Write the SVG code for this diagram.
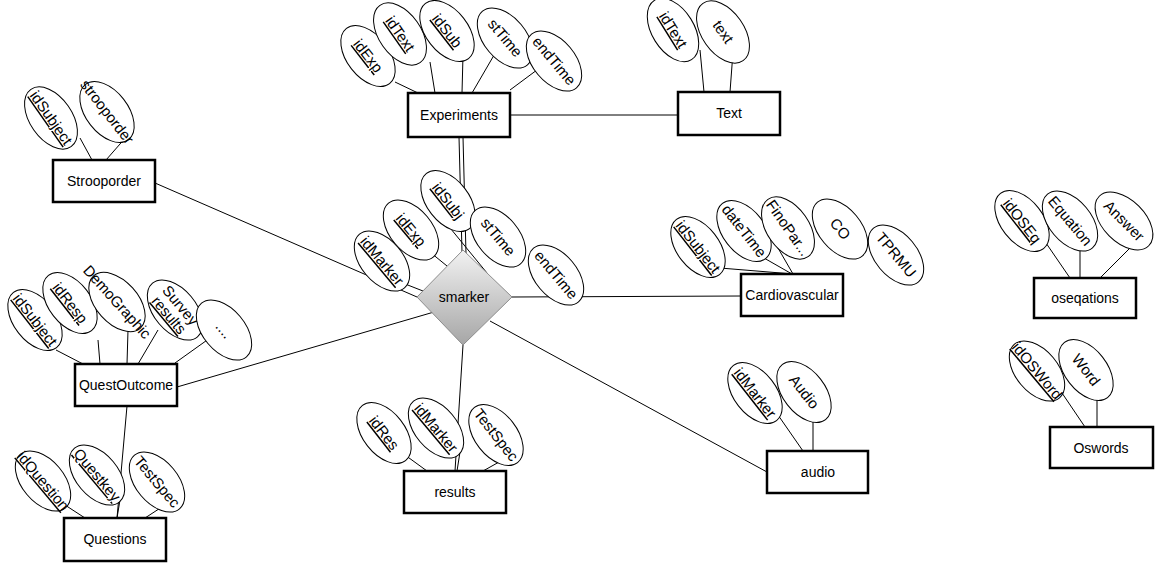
<svg xmlns="http://www.w3.org/2000/svg" width="1159" height="565" viewBox="0 0 1159 565">
<defs>
<linearGradient id="dg" x1="0" y1="0" x2="0" y2="1">
<stop offset="0" stop-color="#f2f2f2"/>
<stop offset="1" stop-color="#a6a6a6"/>
</linearGradient>
<style>
text{font-family:"Liberation Sans",Arial,sans-serif;font-size:14px;fill:#000;text-anchor:middle}
.box{fill:#fff;stroke:#000;stroke-width:2.5}
.att{fill:#fff;stroke:#000;stroke-width:1}
.a text{font-size:15px}
.ln{stroke:#000;stroke-width:1;fill:none}
.u{text-decoration:underline}
</style>
</defs>
<rect width="1159" height="565" fill="#fff"/>

<g id="connectors">
<line class="ln" x1="510" y1="115" x2="678" y2="115"/>
<line class="ln" x1="459" y1="137" x2="462" y2="252"/>
<line class="ln" x1="463" y1="137" x2="466" y2="254"/>
<line class="ln" x1="155" y1="183" x2="417" y2="297"/>
<line class="ln" x1="177" y1="387" x2="434" y2="312"/>
<line class="ln" x1="127" y1="406" x2="117" y2="518"/>
<line class="ln" x1="512" y1="297" x2="741" y2="296"/>
<line class="ln" x1="463" y1="345" x2="455" y2="471"/>
<line class="ln" x1="490" y1="321" x2="767" y2="472"/>
<line class="ln" x1="395" y1="82" x2="418" y2="93"/>
<line class="ln" x1="430" y1="62" x2="435" y2="93"/>
<line class="ln" x1="463" y1="55" x2="462" y2="93"/>
<line class="ln" x1="497" y1="50" x2="472" y2="93"/>
<line class="ln" x1="545" y1="64" x2="510" y2="90"/>
<line class="ln" x1="700" y1="50" x2="704" y2="92"/>
<line class="ln" x1="733" y1="52" x2="730" y2="92"/>
<line class="ln" x1="80" y1="138" x2="92" y2="160"/>
<line class="ln" x1="127" y1="136" x2="106" y2="160"/>
<line class="ln" x1="395" y1="280" x2="423" y2="291"/>
<line class="ln" x1="425" y1="248" x2="447" y2="266"/>
<line class="ln" x1="437" y1="212" x2="487" y2="273"/>
<line class="ln" x1="720" y1="268" x2="793" y2="274"/>
<line class="ln" x1="757" y1="254" x2="792" y2="274"/>
<line class="ln" x1="778" y1="248" x2="793" y2="274"/>
<line class="ln" x1="56" y1="350" x2="83" y2="364"/>
<line class="ln" x1="98" y1="340" x2="100" y2="364"/>
<line class="ln" x1="128" y1="330" x2="127" y2="364"/>
<line class="ln" x1="158" y1="330" x2="138" y2="364"/>
<line class="ln" x1="210" y1="338" x2="175" y2="363"/>
<line class="ln" x1="65" y1="505" x2="85" y2="518"/>
<line class="ln" x1="120" y1="500" x2="117" y2="518"/>
<line class="ln" x1="168" y1="503" x2="145" y2="518"/>
<line class="ln" x1="405" y1="455" x2="427" y2="471"/>
<line class="ln" x1="460" y1="452" x2="457" y2="471"/>
<line class="ln" x1="508" y1="457" x2="483" y2="471"/>
<line class="ln" x1="778" y1="415" x2="803" y2="451"/>
<line class="ln" x1="813" y1="415" x2="813" y2="451"/>
<line class="ln" x1="1046" y1="243" x2="1070" y2="278"/>
<line class="ln" x1="1080" y1="243" x2="1080" y2="278"/>
<line class="ln" x1="1135" y1="243" x2="1100" y2="278"/>
<line class="ln" x1="1062" y1="393" x2="1085" y2="427"/>
<line class="ln" x1="1097" y1="393" x2="1097" y2="427"/>
</g>

<g id="smarker">
<polygon points="417,297 463,250 512,297 463,345" fill="url(#dg)" stroke="#8c8c8c" stroke-width="1"/>
<text x="464" y="302">smarker</text>
</g>
<g id="smarker-attrs" class="a">
<g transform="translate(448,201) rotate(52)"><ellipse class="att" rx="35" ry="21"/><text class="u" dy="5">idSubj</text></g>
<g transform="translate(498,237) rotate(50)"><ellipse class="att" rx="35" ry="21"/><text dy="5">stTime</text></g>
<g transform="translate(556,275) rotate(50)"><ellipse class="att" rx="35" ry="21"/><text dy="5">endTime</text></g>
<g transform="translate(411,230) rotate(50)"><ellipse class="att" rx="35" ry="21"/><text class="u" dy="5">idExp</text></g>
<g transform="translate(382,261) rotate(50)"><ellipse class="att" rx="35" ry="21"/><text class="u" dy="5">idMarker</text></g>
</g>

<g id="experiments" class="a">
<g transform="translate(368,56) rotate(52)"><ellipse class="att" rx="35" ry="21"/><text class="u" dy="5">idExp</text></g>
<g transform="translate(400,34) rotate(55)"><ellipse class="att" rx="35" ry="21"/><text class="u" dy="5">idText</text></g>
<g transform="translate(447,31) rotate(52)"><ellipse class="att" rx="35" ry="21"/><text class="u" dy="5">idSub</text></g>
<g transform="translate(505,38) rotate(50)"><ellipse class="att" rx="35" ry="21"/><text dy="5">stTime</text></g>
<g transform="translate(554,61) rotate(50)"><ellipse class="att" rx="35" ry="21"/><text dy="5">endTime</text></g>
<rect class="box" x="408" y="93" width="102" height="44"/>
<text x="459" y="120" style="font-size:14px">Experiments</text>
</g>

<g id="text" class="a">
<g transform="translate(673,30) rotate(58)"><ellipse class="att" rx="35" ry="21"/><text class="u" dy="5">idText</text></g>
<g transform="translate(723,32) rotate(55)"><ellipse class="att" rx="35" ry="21"/><text dy="5">text</text></g>
<rect class="box" x="678" y="92" width="102" height="43"/>
<text x="729" y="118" style="font-size:14px">Text</text>
</g>

<g id="strooporder" class="a">
<g transform="translate(51,118) rotate(55)"><ellipse class="att" rx="35" ry="21"/><text class="u" dy="5">idSubject</text></g>
<g transform="translate(107,112) rotate(52)"><ellipse class="att" rx="35" ry="21"/><text dy="5">strooporder</text></g>
<rect class="box" x="53" y="160" width="102" height="42"/>
<text x="104" y="186" style="font-size:14px">Strooporder</text>
</g>

<g id="cardiovascular" class="a">
<g transform="translate(698,247) rotate(52)"><ellipse class="att" rx="35" ry="21"/><text class="u" dy="5">idSubject</text></g>
<g transform="translate(744,231) rotate(52)"><ellipse class="att" rx="35" ry="21"/><text dy="5">dateTime</text></g>
<g transform="translate(788,228) rotate(55)"><ellipse class="att" rx="35" ry="21"/><text dy="5">FinoPar...</text></g>
<g transform="translate(840,229) rotate(50)"><ellipse class="att" rx="35" ry="21"/><text dy="5">CO</text></g>
<g transform="translate(896,255) rotate(50)"><ellipse class="att" rx="35" ry="21"/><text dy="5">TPRMU</text></g>
<rect class="box" x="741" y="274" width="102" height="42"/>
<text x="792" y="300" style="font-size:14px">Cardiovascular</text>
</g>

<g id="questoutcome" class="a">
<g transform="translate(35,320) rotate(52)"><ellipse class="att" rx="35" ry="21"/><text class="u" dy="5">idSubject</text></g>
<g transform="translate(70,303) rotate(52)"><ellipse class="att" rx="35" ry="21"/><text class="u" dy="5">idResp</text></g>
<g transform="translate(117,302) rotate(48)"><ellipse class="att" rx="35" ry="21"/><text dy="5">DemoGraphic</text></g>
<g transform="translate(175,310) rotate(50)"><ellipse class="att" rx="35" ry="21"/><text dy="-2">Survey</text><text class="u" dy="13">results</text></g>
<g transform="translate(224,330) rotate(50)"><ellipse class="att" rx="35" ry="21"/><text dy="5">....</text></g>
<rect class="box" x="75" y="364" width="102" height="42"/>
<text x="126" y="390" style="font-size:14px">QuestOutcome</text>
</g>

<g id="questions" class="a">
<g transform="translate(43,481) rotate(50)"><ellipse class="att" rx="35" ry="21"/><text class="u" dy="5">idQuestion</text></g>
<g transform="translate(97,475) rotate(50)"><ellipse class="att" rx="35" ry="21"/><text class="u" dy="5">Questkey</text></g>
<g transform="translate(157,482) rotate(50)"><ellipse class="att" rx="35" ry="21"/><text dy="5">TestSpec</text></g>
<rect class="box" x="64" y="518" width="102" height="43"/>
<text x="115" y="544" style="font-size:14px">Questions</text>
</g>

<g id="results" class="a">
<g transform="translate(384,433) rotate(52)"><ellipse class="att" rx="35" ry="21"/><text class="u" dy="5">idRes</text></g>
<g transform="translate(436,428) rotate(50)"><ellipse class="att" rx="35" ry="21"/><text class="u" dy="5">idMarker</text></g>
<g transform="translate(496,435) rotate(52)"><ellipse class="att" rx="35" ry="21"/><text dy="5">TestSpec</text></g>
<rect class="box" x="404" y="471" width="102" height="42"/>
<text x="455" y="497" style="font-size:14px">results</text>
</g>

<g id="audio" class="a">
<g transform="translate(755,393) rotate(52)"><ellipse class="att" rx="35" ry="21"/><text class="u" dy="5">idMarker</text></g>
<g transform="translate(804,392) rotate(52)"><ellipse class="att" rx="35" ry="21"/><text dy="5">Audio</text></g>
<rect class="box" x="767" y="451" width="101" height="42"/>
<text x="818" y="477" style="font-size:14px">audio</text>
</g>

<g id="oseqations" class="a">
<g transform="translate(1022,221) rotate(52)"><ellipse class="att" rx="35" ry="21"/><text class="u" dy="5">idOSEq</text></g>
<g transform="translate(1070,221) rotate(50)"><ellipse class="att" rx="35" ry="21"/><text dy="5">Equation</text></g>
<g transform="translate(1124,221) rotate(45)"><ellipse class="att" rx="35" ry="21"/><text dy="5">Answer</text></g>
<rect class="box" x="1034" y="278" width="102" height="40"/>
<text x="1085" y="303" style="font-size:14px">oseqations</text>
</g>

<g id="oswords" class="a">
<g transform="translate(1037,371) rotate(50)"><ellipse class="att" rx="35" ry="21"/><text class="u" dy="5">idOSWord</text></g>
<g transform="translate(1086,370) rotate(52)"><ellipse class="att" rx="35" ry="21"/><text dy="5">Word</text></g>
<rect class="box" x="1050" y="427" width="103" height="41"/>
<text x="1101" y="453" style="font-size:14px">Oswords</text>
</g>
</svg>
